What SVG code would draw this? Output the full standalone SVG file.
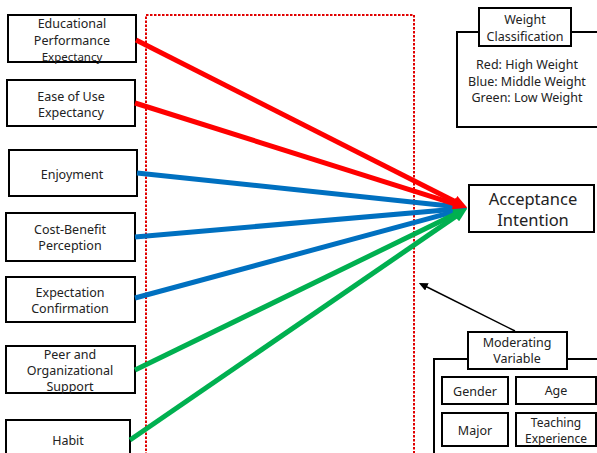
<svg xmlns="http://www.w3.org/2000/svg" width="597" height="453" viewBox="0 0 597 453">
<style>
.box{fill:#fff;stroke:#000;stroke-width:2}
.t{font-family:"Noto Sans","DejaVu Sans",sans-serif;font-size:12.5px;fill:#222;text-anchor:middle;dominant-baseline:central}
.big{font-size:16.5px}
.sm{font-size:12px}
.ln{fill:none;stroke-width:5}
.r{stroke:#ff0000}.b{stroke:#0070c0}.g{stroke:#00b050}
</style>
<defs>
<marker id="ar" viewBox="0 -6 14 12" markerWidth="14" markerHeight="12" refX="1" refY="0" orient="auto" markerUnits="userSpaceOnUse"><path d="M0,-6 L14,0 L0,6 z" fill="#ff0000"/></marker>
<marker id="ab" viewBox="0 -6 14 12" markerWidth="14" markerHeight="12" refX="1" refY="0" orient="auto" markerUnits="userSpaceOnUse"><path d="M0,-6 L14,0 L0,6 z" fill="#0070c0"/></marker>
<marker id="ag" viewBox="0 -6 14 12" markerWidth="14" markerHeight="12" refX="1" refY="0" orient="auto" markerUnits="userSpaceOnUse"><path d="M0,-6 L14,0 L0,6 z" fill="#00b050"/></marker>
<marker id="ak" viewBox="0 -4 9 8" markerWidth="9" markerHeight="8" refX="1" refY="0" orient="auto" markerUnits="userSpaceOnUse"><path d="M0,-4 L9,0 L0,4 z" fill="#000"/></marker>
</defs>
<rect width="597" height="453" fill="#fff"/>
<rect x="146" y="15" width="268" height="460" fill="none" stroke="#e00000" stroke-width="2" stroke-dasharray="2.5 1.5"/>

<g id="n1"><rect class="box" x="8" y="15" width="128" height="47"/><text class="t" x="72" y="23">Educational</text><text class="t" x="72" y="40">Performance</text><text class="t" x="72" y="56" style="font-size:11.5px">Expectancy</text></g>
<g id="n2"><rect class="box" x="7" y="80" width="128" height="46"/><text class="t" x="71" y="96">Ease of Use</text><text class="t" x="71" y="112">Expectancy</text></g>
<g id="n3"><rect class="box" x="9" y="150" width="128" height="46"/><text class="t" x="72" y="174">Enjoyment</text></g>
<g id="n4"><rect class="box" x="6" y="213" width="129" height="48"/><text class="t" x="70" y="229">Cost-Benefit</text><text class="t" x="70" y="245">Perception</text></g>
<g id="n5"><rect class="box" x="6" y="277" width="129" height="45"/><text class="t" x="70" y="292">Expectation</text><text class="t" x="70" y="308">Confirmation</text></g>
<g id="n6"><rect class="box" x="6" y="346" width="129" height="47"/><text class="t" x="70" y="354">Peer and</text><text class="t" x="70" y="370">Organizational</text><text class="t" x="70" y="386">Support</text></g>
<g id="n7"><rect class="box" x="6" y="420" width="124" height="45"/><text class="t" x="68" y="440">Habit</text></g>

<g id="target"><rect class="box" x="469" y="185" width="125" height="47"/><text class="t big" x="533" y="198">Acceptance</text><text class="t big" x="533" y="219">Intention</text></g>

<g id="weight"><rect class="box" x="457" y="32" width="142" height="95"/><rect class="box" x="479" y="8" width="92" height="38"/><text class="t" x="525" y="19">Weight</text><text class="t" x="525" y="36">Classification</text><text class="t" x="527" y="64">Red: High Weight</text><text class="t" x="527" y="81">Blue: Middle Weight</text><text class="t" x="527" y="97">Green: Low Weight</text></g>

<g id="moderating"><rect class="box" x="434" y="359" width="170" height="100"/><rect class="box" x="468" y="332" width="99" height="37"/><text class="t" x="517" y="342">Moderating</text><text class="t" x="517" y="358">Variable</text>
<rect class="box" x="442" y="377" width="66" height="27"/><text class="t" x="475" y="391">Gender</text>
<rect class="box" x="516" y="377" width="80" height="27"/><text class="t" x="556" y="390">Age</text>
<rect class="box" x="442" y="413" width="66" height="33"/><text class="t" x="475" y="430">Major</text>
<rect class="box" x="516" y="413" width="80" height="33"/><text class="t sm" x="556" y="422">Teaching</text><text class="t sm" x="556" y="438">Experience</text></g>

<g id="connectors">
<path class="ln b" d="M137,173 L454.1,206.5" marker-end="url(#ab)"/>
<path class="ln b" d="M135,237 L454.1,209.2" marker-end="url(#ab)"/>
<path class="ln b" d="M135,298 L454.5,211.7" marker-end="url(#ab)"/>
<path class="ln g" d="M135,370 L455.4,214.1" marker-end="url(#ag)"/>
<path class="ln g" d="M130,440 L456.5,215.9" marker-end="url(#ag)"/>
<path class="ln r" d="M136,40 L455.5,201.7" marker-end="url(#ar)"/>
<path class="ln r" d="M135,103 L454.6,203.8" marker-end="url(#ar)"/>
<path d="M515,331 L426,286.5" stroke="#000" stroke-width="1.5" fill="none" marker-end="url(#ak)"/>
</g>
</svg>
